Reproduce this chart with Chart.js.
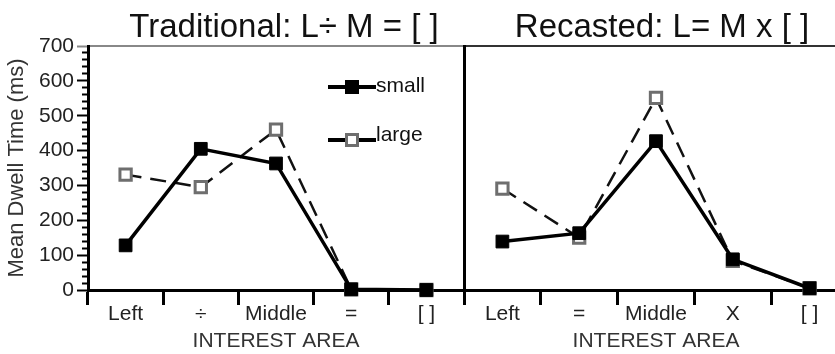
<!DOCTYPE html>
<html>
<head>
<meta charset="utf-8">
<script src="https://cdn.jsdelivr.net/npm/chart.js@4/dist/chart.umd.min.js"></script>
<style>
  html, body { margin: 0; padding: 0; background: #fff; overflow: hidden; }
  #wrap { position: relative; width: 835px; height: 354px; overflow: hidden; background: #fff; }
  #traditional { position: absolute; left: 0; top: 0; }
  #recasted { position: absolute; left: 462px; top: 0; }
</style>
</head>
<body>
<div id="wrap">
  <canvas id="traditional" width="466" height="354"></canvas>
  <canvas id="recasted" width="400" height="354"></canvas>
</div>
<script>
// Interest-area categories for each problem format
const traditionalAreas = ['Left', '÷', 'Middle', '=', '[ ]'];
const recastedAreas = ['Left', '=', 'Middle', 'X', '[ ]'];

// Mean dwell time (ms) per interest area
const traditionalSmall = [128, 405, 363, 2, 0];
const traditionalLarge = [331, 295, 460, 2, 0];
const recastedSmall = [139, 163, 427, 88, 5];
const recastedLarge = [291, 150, 551, 84, 5];

// Y axis range and labelled tick values
const yMin = 0;
const yMax = 700;
const yMajorStep = 100;
const yMinorStep = 20;
const seriesNames = ['small', 'large'];

Chart.defaults.font.family = '"Liberation Sans", Arial, sans-serif';
Chart.defaults.color = '#222';

// Panel heading, centred over the plot area
const panelTitle = {
  id: 'panelTitle',
  afterDraw(chart, args, opts) {
    const { ctx, chartArea } = chart;
    ctx.save();
    ctx.font = opts.font;
    ctx.fillStyle = opts.color;
    ctx.textAlign = 'center';
    ctx.textBaseline = 'alphabetic';
    ctx.fillText(opts.text, (chartArea.left + chartArea.right) / 2 + opts.dx, opts.baseline);
    ctx.restore();
  }
};

// Key drawn inside the plot: a line sample with the series marker and its name
const seriesKey = {
  id: 'seriesKey',
  afterDatasetsDraw(chart, args, opts) {
    const { ctx } = chart;
    chart.data.datasets.forEach((ds, i) => {
      const row = opts.rows[i];
      const x0 = opts.x;
      const x1 = opts.x + opts.lineLength;
      const cx = (x0 + x1) / 2;
      ctx.save();
      ctx.strokeStyle = '#000';
      ctx.lineWidth = opts.lineWidth;
      ctx.beginPath();
      ctx.moveTo(x0, row.line);
      ctx.lineTo(x1, row.line);
      ctx.stroke();
      const s = opts.markerSize;
      ctx.fillStyle = ds.pointBackgroundColor;
      ctx.fillRect(cx - s / 2, row.line - s / 2, s, s);
      if (ds.pointBorderWidth > 1) {
        ctx.strokeStyle = ds.pointBorderColor;
        ctx.lineWidth = ds.pointBorderWidth;
        const h = s / 2 - ds.pointBorderWidth / 2;
        ctx.strokeRect(cx - h, row.line - h, 2 * h, 2 * h);
      }
      ctx.font = opts.font;
      ctx.fillStyle = opts.color;
      ctx.textAlign = 'left';
      ctx.textBaseline = 'alphabetic';
      ctx.fillText(ds.label, x1, row.text);
      ctx.restore();
    });
  }
};

function buildDatasets(small, large) {
  return [
    {
      label: seriesNames[0],
      data: small,
      borderColor: '#000',
      borderWidth: 3.5,
      pointStyle: 'rect',
      pointRadius: 9,
      pointBackgroundColor: '#000',
      pointBorderColor: '#000',
      pointBorderWidth: 1,
      tension: 0,
      clip: false
    },
    {
      label: seriesNames[1],
      data: large,
      borderColor: '#111',
      borderWidth: 2.5,
      borderDash: [16, 9],
      pointStyle: 'rect',
      pointRadius: 8,
      pointBackgroundColor: '#fff',
      pointBorderColor: '#6e6e6e',
      pointBorderWidth: 3,
      tension: 0,
      clip: false
    }
  ];
}

function categoryAxis() {
  return {
    type: 'category',
    position: 'bottom',
    offset: true,
    afterFit: s => { s.height = 64; },
    border: { display: true, color: '#000', width: 3 },
    grid: { offset: true, drawOnChartArea: false, tickLength: 15, tickWidth: 3, tickColor: '#000' },
    ticks: { autoSkip: false, maxRotation: 0, padding: -1, color: '#222', font: { size: 21, lineHeight: 1 } },
    title: { display: true, text: 'INTEREST AREA', color: '#333', font: { size: 21, lineHeight: 1 }, padding: { top: 0, bottom: 2 } }
  };
}

function topFrame(color) {
  return {
    type: 'category',
    position: 'top',
    display: true,
    afterFit: s => { s.height = 0; },
    grid: { display: false, drawTicks: false },
    ticks: { display: false },
    border: { display: true, color: color, width: 2 }
  };
}

// Left panel: traditional format, carries the shared value axis
new Chart(document.getElementById('traditional'), {
  type: 'line',
  data: { labels: traditionalAreas, datasets: buildDatasets(traditionalSmall, traditionalLarge) },
  options: {
    responsive: false,
    animation: false,
    devicePixelRatio: 1,
    layout: { autoPadding: false, padding: { top: 46, right: 2, left: 0, bottom: 0 } },
    scales: {
      x: categoryAxis(),
      frame: topFrame('#888'),
      y: {
        type: 'linear',
        position: 'left',
        min: yMin,
        max: yMax,
        afterFit: s => { s.width = 88; },
        border: { display: true, color: '#000', width: 3 },
        grid: {
          drawOnChartArea: false,
          tickLength: 11,
          tickWidth: 2,
          tickColor: c => (c.tick && c.tick.value === yMax) ? '#888' : '#000',
          tickBorderDash: c => (c.tick && c.tick.value % yMajorStep === 0) ? [] : [0, 5, 100]
        },
        ticks: {
          stepSize: yMinorStep,
          autoSkip: false,
          padding: 3,
          color: '#222',
          font: { size: 21, lineHeight: 1 },
          callback: v => (v % yMajorStep === 0 ? String(v) : '')
        },
        title: {
          display: true,
          text: 'Mean Dwell Time (ms)',
          color: '#333',
          font: { size: 22, lineHeight: 1 },
          padding: { top: 6, bottom: 0 }
        }
      }
    },
    plugins: {
      legend: { display: false },
      tooltip: { enabled: false },
      panelTitle: { text: 'Traditional: L÷ M = [ ]', font: '33px "Liberation Sans", Arial, sans-serif', color: '#111', dx: 8, baseline: 37 },
      seriesKey: {
        x: 328, lineLength: 48, lineWidth: 4, markerSize: 14,
        rows: [{ line: 87, text: 92 }, { line: 140, text: 141 }],
        font: '21px "Liberation Sans", Arial, sans-serif', color: '#111'
      }
    }
  },
  plugins: [panelTitle, seriesKey]
});

// Right panel: recast format, same value range
new Chart(document.getElementById('recasted'), {
  type: 'line',
  data: { labels: recastedAreas, datasets: buildDatasets(recastedSmall, recastedLarge) },
  options: {
    responsive: false,
    animation: false,
    devicePixelRatio: 1,
    layout: { autoPadding: false, padding: { top: 46, right: 14, left: 0, bottom: 0 } },
    scales: {
      x: categoryAxis(),
      frame: topFrame('#333'),
      y: {
        type: 'linear',
        position: 'left',
        min: yMin,
        max: yMax,
        afterFit: s => { s.width = 2; },
        border: { display: true, color: '#000', width: 3 },
        grid: { display: false, drawTicks: false },
        ticks: { display: false }
      }
    },
    plugins: {
      legend: { display: false },
      tooltip: { enabled: false },
      panelTitle: { text: 'Recasted: L= M x [ ]', font: '33px "Liberation Sans", Arial, sans-serif', color: '#111', dx: 6, baseline: 37 }
    }
  },
  plugins: [panelTitle]
});
</script>
</body>
</html>
